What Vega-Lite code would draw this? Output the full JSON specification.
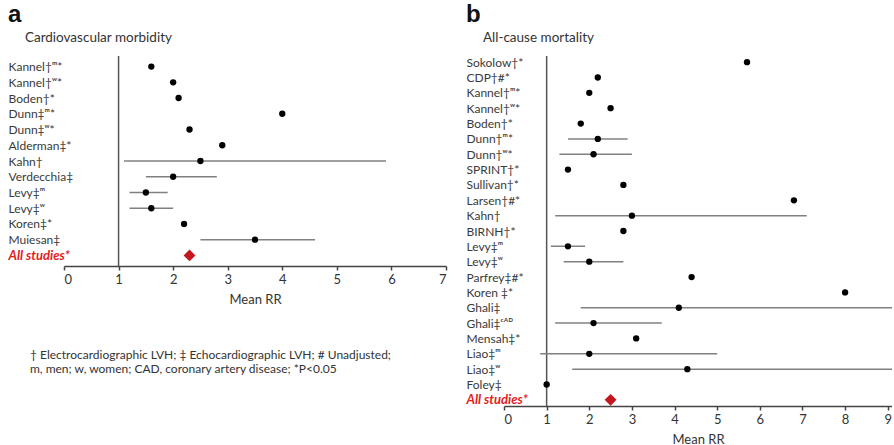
{
  "$schema": "https://vega.github.io/schema/vega-lite/v6.json",
  "padding": {"left": 8, "top": 2, "right": 0, "bottom": 0},
  "background": "white",
  "datasets": {
    "a": [
      {"study": "Kannel†ᵐ*", "rr": 1.6, "lo": null, "hi": null, "kind": "study"},
      {"study": "Kannel†ʷ*", "rr": 2.0, "lo": null, "hi": null, "kind": "study"},
      {"study": "Boden†*", "rr": 2.1, "lo": null, "hi": null, "kind": "study"},
      {"study": "Dunn‡ᵐ*", "rr": 4.0, "lo": null, "hi": null, "kind": "study"},
      {"study": "Dunn‡ʷ*", "rr": 2.3, "lo": null, "hi": null, "kind": "study"},
      {"study": "Alderman‡*", "rr": 2.9, "lo": null, "hi": null, "kind": "study"},
      {"study": "Kahn†", "rr": 2.5, "lo": 1.1, "hi": 5.9, "kind": "study"},
      {"study": "Verdecchia‡", "rr": 2.0, "lo": 1.5, "hi": 2.8, "kind": "study"},
      {"study": "Levy‡ᵐ", "rr": 1.5, "lo": 1.2, "hi": 1.9, "kind": "study"},
      {"study": "Levy‡ʷ", "rr": 1.6, "lo": 1.2, "hi": 2.0, "kind": "study"},
      {"study": "Koren‡*", "rr": 2.2, "lo": null, "hi": null, "kind": "study"},
      {"study": "Muiesan‡", "rr": 3.5, "lo": 2.5, "hi": 4.6, "kind": "study"},
      {"study": "All studies*", "rr": 2.3, "lo": null, "hi": null, "kind": "pooled"}
    ],
    "b": [
      {"study": "Sokolow†*", "rr": 5.7, "lo": null, "hi": null, "kind": "study"},
      {"study": "CDP†#*", "rr": 2.2, "lo": null, "hi": null, "kind": "study"},
      {"study": "Kannel†ᵐ*", "rr": 2.0, "lo": null, "hi": null, "kind": "study"},
      {"study": "Kannel†ʷ*", "rr": 2.5, "lo": null, "hi": null, "kind": "study"},
      {"study": "Boden†*", "rr": 1.8, "lo": null, "hi": null, "kind": "study"},
      {"study": "Dunn†ᵐ*", "rr": 2.2, "lo": 1.5, "hi": 2.9, "kind": "study"},
      {"study": "Dunn†ʷ*", "rr": 2.1, "lo": 1.3, "hi": 3.0, "kind": "study"},
      {"study": "SPRINT†*", "rr": 1.5, "lo": null, "hi": null, "kind": "study"},
      {"study": "Sullivan†*", "rr": 2.8, "lo": null, "hi": null, "kind": "study"},
      {"study": "Larsen†#*", "rr": 6.8, "lo": null, "hi": null, "kind": "study"},
      {"study": "Kahn†", "rr": 3.0, "lo": 1.2, "hi": 7.1, "kind": "study"},
      {"study": "BIRNH†*", "rr": 2.8, "lo": null, "hi": null, "kind": "study"},
      {"study": "Levy‡ᵐ", "rr": 1.5, "lo": 1.1, "hi": 1.9, "kind": "study"},
      {"study": "Levy‡ʷ", "rr": 2.0, "lo": 1.4, "hi": 2.8, "kind": "study"},
      {"study": "Parfrey‡#*", "rr": 4.4, "lo": null, "hi": null, "kind": "study"},
      {"study": "Koren ‡*", "rr": 8.0, "lo": null, "hi": null, "kind": "study"},
      {"study": "Ghali‡", "rr": 4.1, "lo": 1.8, "hi": 10.0, "kind": "study"},
      {"study": "Ghali‡ᶜᴬᴰ", "rr": 2.1, "lo": 1.2, "hi": 3.7, "kind": "study"},
      {"study": "Mensah‡*", "rr": 3.1, "lo": null, "hi": null, "kind": "study"},
      {"study": "Liao‡ᵐ", "rr": 2.0, "lo": 0.85, "hi": 5.0, "kind": "study"},
      {"study": "Liao‡ʷ", "rr": 4.3, "lo": 1.6, "hi": 10.0, "kind": "study"},
      {"study": "Foley‡", "rr": 1.0, "lo": null, "hi": null, "kind": "study"},
      {"study": "All studies*", "rr": 2.5, "lo": null, "hi": null, "kind": "pooled"}
    ],
    "ref": [{"ref": 1}]
  },
  "hconcat": [
    {
      "spacing": 43,
      "vconcat": [
        {
          "width": 382,
          "height": 210,
          "title": {"text": "a", "subtitle": "\u2800\u00a0 Cardiovascular morbidity", "anchor": "start", "frame": "bounds"},
          "layer": [
            {
              "data": {"name": "ref"},
              "mark": {"type": "rule", "color": "#555", "strokeWidth": 1.5},
              "encoding": {"x": {"field": "ref", "type": "quantitative", "scale": {"domain": [0, 7], "nice": false}}}
            },
            {
              "data": {"name": "a"},
              "transform": [{"filter": "datum.lo != null"}],
              "mark": {"type": "rule", "color": "#808080", "strokeWidth": 1.5, "clip": true},
              "encoding": {
                "x": {"field": "lo", "type": "quantitative"},
                "x2": {"field": "hi"},
                "y": {"field": "study", "type": "nominal"}
              }
            },
            {
              "data": {"name": "a"},
              "transform": [{"filter": "datum.kind == 'study'"}],
              "mark": {"type": "point", "filled": true, "color": "black", "opacity": 1, "size": 40},
              "encoding": {
                "x": {"field": "rr", "type": "quantitative"},
                "y": {"field": "study", "type": "nominal"}
              }
            },
            {
              "data": {"name": "a"},
              "transform": [{"filter": "datum.kind == 'pooled'"}],
              "mark": {"type": "point", "shape": "diamond", "filled": true, "color": "#c4161c", "opacity": 1, "size": 140},
              "encoding": {
                "x": {"field": "rr", "type": "quantitative", "title": "Mean RR", "axis": {"values": [0, 1, 2, 3, 4, 5, 6, 7], "format": "d"}},
                "y": {
                  "field": "study", "type": "nominal",
                  "scale": {"type": "point", "padding": 0.67, "domain": ["Kannel†ᵐ*", "Kannel†ʷ*", "Boden†*", "Dunn‡ᵐ*", "Dunn‡ʷ*", "Alderman‡*", "Kahn†", "Verdecchia‡", "Levy‡ᵐ", "Levy‡ʷ", "Koren‡*", "Muiesan‡", "All studies*"]},
                  "axis": {"labelPadding": 56}
                }
              }
            }
          ]
        },
        {
          "width": 382,
          "height": 1,
          "title": {
            "text": ["† Electrocardiographic LVH; ‡ Echocardiographic LVH; # Unadjusted;", "m, men; w, women; CAD, coronary artery disease;  *P<0.05"],
            "anchor": "start", "frame": "group", "dx": -34, "fontSize": 12, "font": "Lato", "fontWeight": "normal", "color": "#333", "lineHeight": 14
          },
          "data": {"values": []},
          "mark": "rule",
          "encoding": {}
        }
      ]
    },
    {
      "width": 388,
      "height": 350,
      "title": {"text": "b", "subtitle": "\u2800\u00a0 All-cause mortality", "anchor": "start", "frame": "bounds"},
      "layer": [
        {
          "data": {"name": "ref"},
          "mark": {"type": "rule", "color": "#555", "strokeWidth": 1.5},
          "encoding": {"x": {"field": "ref", "type": "quantitative", "scale": {"domain": [0, 9.1], "nice": false}}}
        },
        {
          "data": {"name": "b"},
          "transform": [{"filter": "datum.lo != null"}],
          "mark": {"type": "rule", "color": "#808080", "strokeWidth": 1.5, "clip": true},
          "encoding": {
            "x": {"field": "lo", "type": "quantitative"},
            "x2": {"field": "hi"},
            "y": {"field": "study", "type": "nominal"}
          }
        },
        {
          "data": {"name": "b"},
          "transform": [{"filter": "datum.kind == 'study'"}],
          "mark": {"type": "point", "filled": true, "color": "black", "opacity": 1, "size": 40},
          "encoding": {
            "x": {"field": "rr", "type": "quantitative"},
            "y": {"field": "study", "type": "nominal"}
          }
        },
        {
          "data": {"name": "b"},
          "transform": [{"filter": "datum.kind == 'pooled'"}],
          "mark": {"type": "point", "shape": "diamond", "filled": true, "color": "#c4161c", "opacity": 1, "size": 140},
          "encoding": {
            "x": {"field": "rr", "type": "quantitative", "title": "Mean RR", "axis": {"values": [0, 1, 2, 3, 4, 5, 6, 7, 8, 9], "format": "d"}},
            "y": {
              "field": "study", "type": "nominal",
              "scale": {"type": "point", "padding": 0.4, "domain": ["Sokolow†*", "CDP†#*", "Kannel†ᵐ*", "Kannel†ʷ*", "Boden†*", "Dunn†ᵐ*", "Dunn†ʷ*", "SPRINT†*", "Sullivan†*", "Larsen†#*", "Kahn†", "BIRNH†*", "Levy‡ᵐ", "Levy‡ʷ", "Parfrey‡#*", "Koren ‡*", "Ghali‡", "Ghali‡ᶜᴬᴰ", "Mensah‡*", "Liao‡ᵐ", "Liao‡ʷ", "Foley‡", "All studies*"]},
              "axis": {"labelPadding": 38}
            }
          }
        }
      ]
    }
  ],
  "spacing": 19,
  "config": {
    "view": {"stroke": null},
    "title": {"fontSize": 24, "font": "Liberation Sans", "fontWeight": "bold", "color": "#111", "subtitleFont": "Lato", "subtitleFontSize": 13.5, "subtitleColor": "#333", "subtitlePadding": 4, "offset": 11},
    "axisX": {"grid": false, "domainColor": "#444", "domainWidth": 1.5, "tickColor": "#444", "tickWidth": 1.5, "tickSize": 4, "labelFont": "Lato", "labelFontSize": 13, "labelColor": "#333", "labelPadding": 3, "titleFont": "Lato", "titleFontSize": 13, "titleFontWeight": "normal", "titleColor": "#333", "titlePadding": 7},
    "axisY": {
      "domain": false, "ticks": false, "grid": false, "title": null, "labelAlign": "left", "labelBaseline": "middle", "labelLimit": 0, "labelFont": "Lato",
      "labelFontSize": {"condition": {"test": "datum.value == 'All studies*'", "value": 13}, "value": 12},
      "labelColor": {"condition": {"test": "datum.value == 'All studies*'", "value": "#e3201b"}, "value": "#3a3a3a"},
      "labelFontWeight": {"condition": {"test": "datum.value == 'All studies*'", "value": "bold"}, "value": "normal"},
      "labelFontStyle": {"condition": {"test": "datum.value == 'All studies*'", "value": "italic"}, "value": "normal"}
    }
  }
}
